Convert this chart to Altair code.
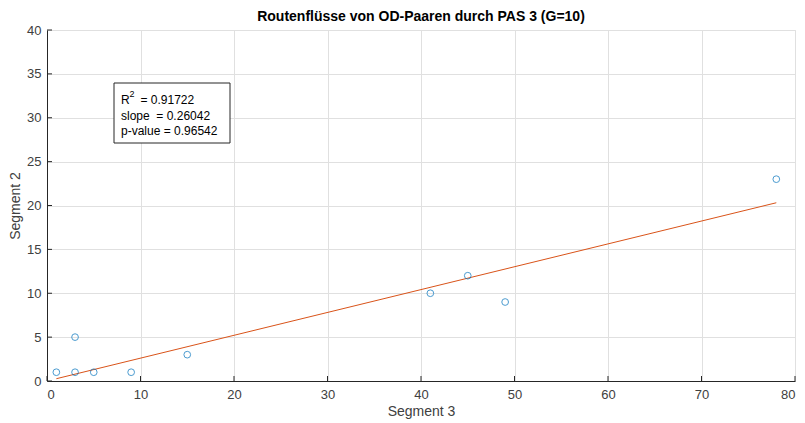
import altair as alt
import pandas as pd

# Route flows of OD pairs through PAS 3
seg3 = [1, 3, 3, 5, 9, 15, 41, 45, 49, 78]
seg2 = [1, 5, 1, 1, 1, 3, 10, 12, 9, 23]

# Regression through the origin
slope = 0.26042
r2 = 0.91722
pval = 0.96542
fit_x = [1, 78]

x_ticks = [0, 10, 20, 30, 40, 50, 60, 70, 80]
y_ticks = [0, 5, 10, 15, 20, 25, 30, 35, 40]

W, H = 748, 351
FONT = "Liberation Sans"
NB = "\u00a0"

pts = pd.DataFrame({"seg3": seg3, "seg2": seg2})
fit = pd.DataFrame({"seg3": fit_x, "seg2": [slope * v for v in fit_x]})

xs = alt.Scale(domain=[0, 80], nice=False, zero=False)
ys = alt.Scale(domain=[0, 40], nice=False, zero=False)

x_axis = alt.Axis(values=x_ticks, title="Segment 3", grid=True, gridColor="#e0e0e0",
                  domainColor="#262626", ticks=False, labelPadding=7,
                  labelColor="#404040", labelFontSize=13, labelFont=FONT,
                  titleFont=FONT, titleFontSize=14, titleFontWeight="normal",
                  titleColor="#404040", titlePadding=3)
y_axis = alt.Axis(values=y_ticks, title="Segment 2", grid=True, gridColor="#e0e0e0",
                  domainColor="#262626", ticks=False, labelPadding=6,
                  labelColor="#404040", labelFontSize=13, labelFont=FONT,
                  titleFont=FONT, titleFontSize=14, titleFontWeight="normal",
                  titleColor="#404040", titlePadding=4)

points = alt.Chart(pts).mark_point(shape="circle", filled=False, size=45,
                                    color="#0072BD", strokeWidth=1).encode(
    x=alt.X("seg3:Q", scale=xs, axis=x_axis),
    y=alt.Y("seg2:Q", scale=ys, axis=y_axis),
)

line = alt.Chart(fit).mark_line(color="#D95319", strokeWidth=1).encode(
    x=alt.X("seg3:Q", scale=xs),
    y=alt.Y("seg2:Q", scale=ys),
)

# inward tick marks
xt = alt.Chart(pd.DataFrame({"v": x_ticks})).mark_rule(color="#262626").encode(
    x=alt.X("v:Q", scale=xs), y=alt.value(H), y2=alt.value(H - 5))
yt = alt.Chart(pd.DataFrame({"v": y_ticks})).mark_rule(color="#262626").encode(
    y=alt.Y("v:Q", scale=ys), x=alt.value(0), x2=alt.value(5))

# statistics annotation box
box = alt.Chart(pd.DataFrame({"a": [0]})).mark_rect(
    fill="white", stroke="#262626", strokeWidth=1).encode(
    x=alt.value(67), x2=alt.value(183), y=alt.value(53), y2=alt.value(113))

# text pieces of the box: (text, x, y, font size)
stats = pd.DataFrame({
    "t": ["R", "2", "= " + f"{r2:.5f}",
          "slope" + NB + NB + "= " + f"{slope:.5f}",
          "p-value = " + f"{pval:.5f}"],
    "px": [74, 82.5, 93.5, 74, 74],
    "py": [70, 64, 70, 86, 101],
    "fs": [12, 9, 12, 12, 12],
})
txt = alt.Chart(stats).mark_text(align="left", baseline="middle", font=FONT,
                                  color="#000000").encode(
    x=alt.X("px:Q", scale=None), y=alt.Y("py:Q", scale=None), text="t:N",
    size=alt.Size("fs:Q", scale=None, legend=None))

chart = alt.layer(xt, yt, line, points, box, txt).properties(
    width=W, height=H,
    title=alt.TitleParams("Routenflüsse von OD-Paaren durch PAS 3 (G=10)",
                          font=FONT, fontSize=14, fontWeight="bold",
                          color="#000000", anchor="middle", offset=0),
    autosize=alt.AutoSizeParams(type="none"),
    padding={"left": 47, "top": 30, "right": 10, "bottom": 42},
).configure_view(stroke=None).configure(background="white")

chart.save("out.html", embed_options={"renderer": "svg", "actions": False})
